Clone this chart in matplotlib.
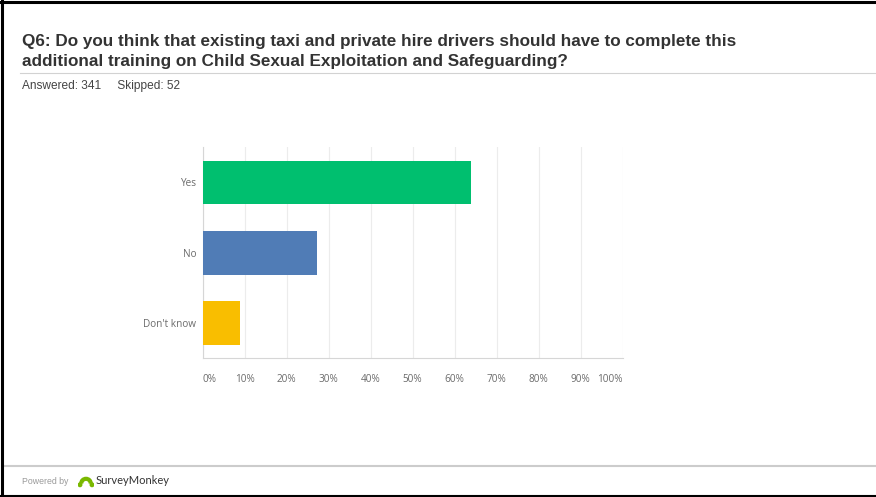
#!/usr/bin/env python3
import matplotlib
matplotlib.use('Agg')
from matplotlib import pyplot as plt
from matplotlib.lines import Line2D
from matplotlib.patches import Arc, Circle

W, H = 876, 497

# survey results (% of answered)
answers = ['Yes', 'No', "Don't know"]
percents = [63.93, 27.27, 8.80]
bar_colors = ['#00bf6f', '#507cb6', '#f9be00']
x_ticks = [0, 10, 20, 30, 40, 50, 60, 70, 80, 90, 100]
x_tick_labels = ['0%', '10%', '20%', '30%', '40%', '50%', '60%', '70%', '80%', '90%', '100%']

title_lines = ['Q6: Do you think that existing taxi and private hire drivers should have to complete this',
               'additional training on Child Sexual Exploitation and Safeguarding?']
subtitle = 'Answered: 341     Skipped: 52'

fig = plt.figure(figsize=(W / 100, H / 100), dpi=100)
fig.patch.set_facecolor('white')


def px(x, y):
    # pixel coords (top-left origin) -> figure fraction
    return x / W, 1 - y / H


# axes box in pixels: left, top, right, bottom
L, T, R, B = 202.7, 147.3, 622.7, 358.3
ax = fig.add_axes([L / W, 1 - B / H, (R - L) / W, (B - T) / H])

ax.barh(range(len(answers)), percents, height=0.62, color=bar_colors, zorder=3)
ax.set_xlim(0, 100)
ax.set_ylim(2.5, -0.5)

ax.set_xticks(x_ticks)
ax.set_xticklabels(x_tick_labels)
ax.set_yticks(range(len(answers)))
ax.set_yticklabels(answers)
ax.tick_params(axis='both', length=0, labelsize=7.2, colors='#6b6b6b')
ax.tick_params(axis='x', pad=11)
ax.tick_params(axis='y', pad=4.5)
for lbl in ax.get_xticklabels() + ax.get_yticklabels():
    lbl.set_family('Open Sans')
# end labels sit inside the axis range
xl = ax.get_xticklabels()
xl[0].set_ha('left')
xl[-1].set_ha('right')

ax.grid(axis='x', color='#ececec', linewidth=0.8, zorder=0)
for side in ['top', 'right']:
    ax.spines[side].set_visible(False)
ax.spines['left'].set_color('#d6d6d6')
ax.spines['bottom'].set_color('#d6d6d6')

# header
for i, line in enumerate(title_lines):
    fig.text(*px(22, 45.7 + 20.5 * i), line, fontsize=12.3, fontweight='bold',
             family='Liberation Sans', color='#333333', va='baseline', ha='left')
fig.text(*px(22, 89), subtitle, fontsize=8.6, family='Liberation Sans', color='#444444',
         va='baseline', ha='left')
fig.add_artist(Line2D([20 / W, 1], [1 - 73 / H] * 2, color='#d2d2d2', linewidth=0.8))

# footer
fig.add_artist(Line2D([3 / W, 1], [1 - 466 / H] * 2, color='#cccccc', linewidth=1.5))
fig.text(*px(22, 481), 'Powered by', fontsize=6.3, family='Liberation Sans', color='#9a9a9a',
         va='center', ha='left')
logo_x, logo_y = px(86, 482)
ax_logo = fig.add_axes([logo_x - 8 / W, logo_y - 8 / H, 16 / W, 16 / H])
ax_logo.set_xlim(-1, 1)
ax_logo.set_ylim(-1, 1)
ax_logo.axis('off')
ax_logo.add_patch(Arc((0, -0.2), 1.2, 1.2, theta1=0, theta2=180, color='#7ab800', linewidth=3))
ax_logo.add_patch(Circle((-0.75, -0.35), 0.22, color='#7ab800'))
ax_logo.add_patch(Circle((0.75, -0.35), 0.22, color='#7ab800'))
fig.text(*px(96, 481), 'SurveyMonkey', fontsize=8, family='Lato', color='#333333',
         va='center', ha='left')

# outer frame (top, left, bottom)
fig.add_artist(Line2D([0, 1], [1 - 1.5 / H] * 2, color='black', linewidth=2.2))
fig.add_artist(Line2D([1.5 / W] * 2, [0, 1], color='black', linewidth=2.2))
fig.add_artist(Line2D([0, 1], [1 / H] * 2, color='black', linewidth=1.5))

fig.savefig('out.png', dpi=100, facecolor='white')
